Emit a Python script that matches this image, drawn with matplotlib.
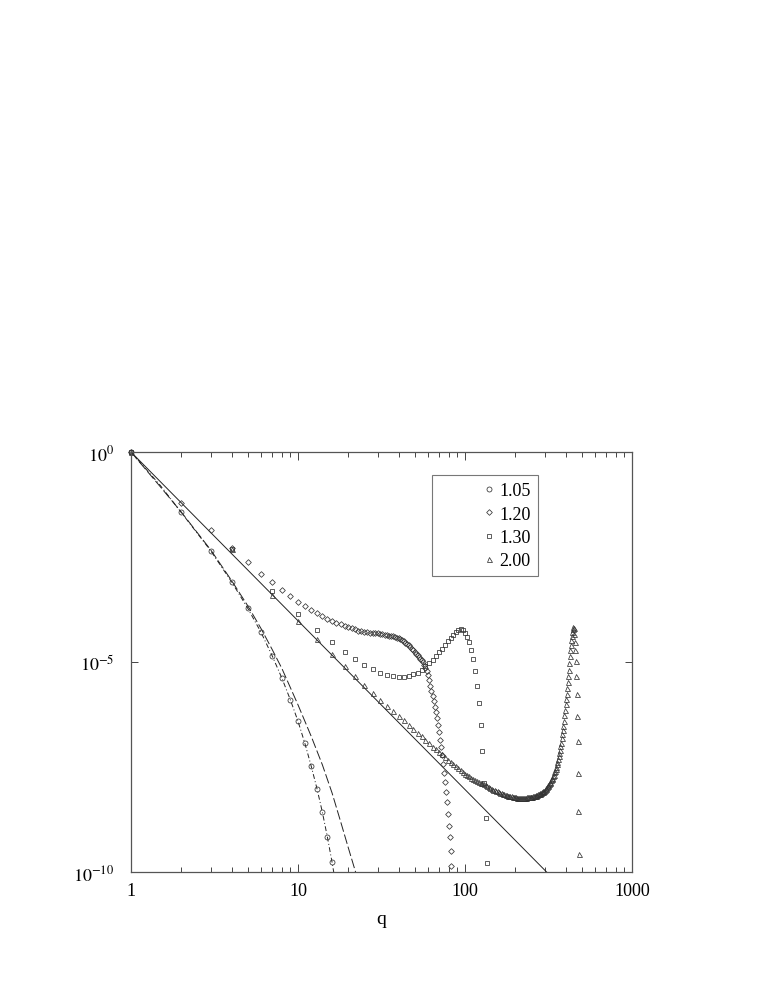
import numpy as np
import matplotlib
matplotlib.use('Agg')
import matplotlib.pyplot as plt
from matplotlib.ticker import FixedLocator, NullLocator, LogLocator, NullFormatter

plt.rcParams['font.family'] = ['Liberation Serif', 'DejaVu Serif']
plt.rcParams['mathtext.fontset'] = 'stix'

# values are log10 of the y-value
circ_q = list(range(1, 17))
circ_logy = [0, -1.44, -2.35, -3.09, -3.72, -4.29, -4.85, -5.38, -5.90, -6.41,
             -6.94, -7.48, -8.02, -8.58, -9.17, -9.77]

diam_q = list(range(1, 84))
diam_logy = [0, -1.21, -1.85, -2.29, -2.63, -2.90, -3.10, -3.29, -3.44, -3.56,
             -3.66, -3.75, -3.83, -3.90, -3.97, -4.02, -4.06, -4.10, -4.14, -4.17,
             -4.20, -4.22, -4.25, -4.27, -4.28, -4.29, -4.30, -4.31, -4.32, -4.32,
             -4.33, -4.34, -4.35, -4.36, -4.37, -4.38, -4.39, -4.40, -4.42, -4.44,
             -4.46, -4.48, -4.51, -4.54, -4.57, -4.60, -4.64, -4.68, -4.72, -4.76,
             -4.80, -4.84, -4.88, -4.92, -4.96, -5.01, -5.07, -5.14, -5.22, -5.32,
             -5.44, -5.56, -5.68, -5.80, -5.94, -6.08, -6.20, -6.34, -6.50, -6.67,
             -6.85, -7.03, -7.21, -7.43, -7.64, -7.85, -8.09, -8.34, -8.62, -8.90,
             -9.17, -9.49, -9.85]

sq_q = list(range(1, 137, 3))
sq_logy = [0, -2.30, -3.30, -3.85, -4.23, -4.52, -4.75, -4.92, -5.06, -5.17,
           -5.25, -5.31, -5.34, -5.36, -5.35, -5.33, -5.29, -5.25, -5.18, -5.10,
           -5.03, -4.95, -4.86, -4.77, -4.68, -4.59, -4.50, -4.42, -4.35, -4.29,
           -4.24, -4.22, -4.24, -4.30, -4.40, -4.53, -4.71, -4.93, -5.21, -5.56,
           -5.98, -6.49, -7.12, -7.87, -8.72, -9.78]

tri_q = list(range(1, 482, 3))
tri_logy = [0, -2.30, -3.40, -4.02, -4.45, -4.81, -5.10, -5.34, -5.55, -5.73,
            -5.90, -6.04, -6.17, -6.28, -6.39, -6.49, -6.59, -6.68, -6.77, -6.86,
            -6.94, -7.02, -7.08, -7.14, -7.20, -7.27, -7.33, -7.38, -7.43, -7.48,
            -7.53, -7.58, -7.62, -7.66, -7.69, -7.72, -7.75, -7.78, -7.80, -7.83,
            -7.85, -7.87, -7.89, -7.91, -7.93, -7.95, -7.97, -8.00, -8.02, -8.04,
            -8.05, -8.06, -8.08, -8.10, -8.12, -8.13, -8.14, -8.15, -8.16, -8.17,
            -8.18, -8.19, -8.20, -8.20, -8.21, -8.21, -8.22, -8.22, -8.23, -8.23,
            -8.24, -8.24, -8.24, -8.24, -8.24, -8.24, -8.23, -8.23, -8.22, -8.22,
            -8.22, -8.21, -8.21, -8.21, -8.21, -8.20, -8.20, -8.19, -8.18, -8.17,
            -8.16, -8.15, -8.15, -8.14, -8.13, -8.12, -8.10, -8.09, -8.07, -8.06,
            -8.04, -8.02, -8.00, -7.98, -7.96, -7.94, -7.91, -7.88, -7.85, -7.82,
            -7.79, -7.76, -7.72, -7.68, -7.63, -7.59, -7.54, -7.49, -7.44, -7.38,
            -7.31, -7.24, -7.17, -7.10, -7.01, -6.92, -6.82, -6.72, -6.62, -6.52,
            -6.40, -6.27, -6.14, -6.01, -5.88, -5.75, -5.62, -5.48, -5.33, -5.18,
            -5.02, -4.86, -4.72, -4.60, -4.48, -4.38, -4.29, -4.22, -4.17, -4.20,
            -4.33, -4.53, -4.71, -4.97, -5.33, -5.75, -6.28, -6.89, -7.65, -8.54,
            -9.57]

# reference curves
solid_q = [1, 308]
solid_logy = [0, -10]

dash_q = [1, 1.5, 2, 3, 4, 5, 6, 7, 8, 10, 12, 14, 16, 18, 20, 22.5]
dash_logy = [0, -0.83, -1.43, -2.33, -3.06, -3.66, -4.20, -4.70, -5.15, -6.02,
             -6.77, -7.45, -8.12, -8.80, -9.42, -10.1]

dd_q = [1, 1.5, 2, 3, 4, 5, 6, 7, 8, 9, 10, 11, 12, 13, 14, 15, 16, 16.6]
dd_logy = [0, -0.80, -1.44, -2.35, -3.09, -3.72, -4.29, -4.85, -5.38, -5.90,
           -6.41, -6.94, -7.48, -8.02, -8.58, -9.17, -9.77, -10.15]

labels = ['1.05', '1.20', '1.30', '2.00']

fig = plt.figure(figsize=(7.63, 9.87), dpi=100)
ax = fig.add_axes([131/763, 1 - 873/987, 501/763, 420/987])

lc = '#222222'
ax.plot(solid_q, 10.0**np.array(solid_logy), '-', color=lc, lw=0.7)
ax.plot(dash_q, 10.0**np.array(dash_logy), color=lc, lw=0.7, dashes=(10, 3))
ax.plot(dd_q, 10.0**np.array(dd_logy), color=lc, lw=0.7, dashes=(5, 2.5, 1, 2.5))

mk = dict(ls='none', mfc='none', mec='#333333', mew=0.55, clip_on=False)
ax.plot(circ_q, 10.0**np.array(circ_logy), marker='o', ms=3.6, label=labels[0], **mk)
ax.plot(diam_q, 10.0**np.array(diam_logy), marker='D', ms=2.9, label=labels[1], **mk)
ax.plot(sq_q, 10.0**np.array(sq_logy), marker='s', ms=3.0, label=labels[2], **mk)
ax.plot(tri_q, 10.0**np.array(tri_logy), marker='^', ms=3.6, label=labels[3], **mk)

ax.set_xscale('log')
ax.set_yscale('log')
ax.set_xlim(1, 1000)
ax.set_ylim(1e-10, 1)

ax.xaxis.set_major_locator(FixedLocator([1, 10, 100, 1000]))
ax.xaxis.set_minor_locator(LogLocator(base=10, subs=np.arange(2, 10)))
ax.xaxis.set_minor_formatter(NullFormatter())
ax.set_xticklabels(['1', '10', '100', '1000'])
ax.yaxis.set_major_locator(FixedLocator([1e-10, 1e-5, 1]))
ax.yaxis.set_minor_locator(NullLocator())
ax.set_yticklabels([r'$10^{-10}$', r'$10^{-5}$', r'$10^{0}$'])

ax.tick_params(which='both', direction='in', top=True, right=True, colors='#444444',
               labelcolor='black', labelsize=13, width=0.7)
ax.tick_params(axis='x', which='major', length=6, pad=7)
ax.tick_params(axis='x', which='minor', length=3.5)
ax.tick_params(axis='y', which='major', length=5, pad=12)
for s in ax.spines.values():
    s.set_color('#555555')
    s.set_linewidth(0.9)

ax.set_xlabel('q', fontsize=14, labelpad=8)

leg = ax.legend(loc='upper left', bbox_to_anchor=((432-131)/501, 1 - (476-453)/420),
                borderaxespad=0, fontsize=13, frameon=True, fancybox=False,
                numpoints=1, handlelength=5.5, handletextpad=-2.15,
                labelspacing=0.35, borderpad=0.4, markerscale=1.0)
leg.get_frame().set_edgecolor('#555555')
leg.get_frame().set_linewidth(0.8)

fig.savefig('out.png', dpi=100)
